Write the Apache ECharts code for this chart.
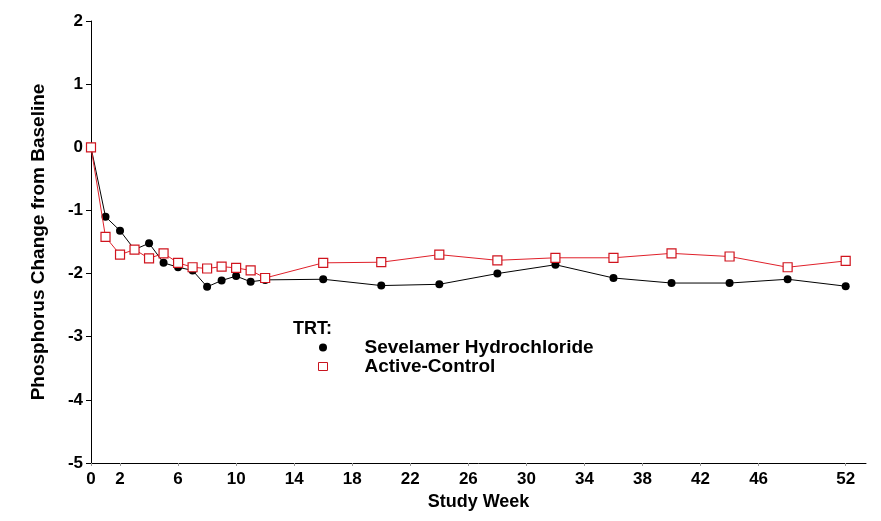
<!DOCTYPE html>
<html><head><meta charset="utf-8">
<script src="https://cdn.jsdelivr.net/npm/echarts@6/dist/echarts.min.js"></script>
<style>html,body{margin:0;padding:0;background:#fff}#c{width:881px;height:521px}</style>
</head><body><div id="c"></div>
<script>
var weeks = [0,1,2,3,4,5,6,7,8,9,10,11,12,16,20,24,28,32,36,40,44,48,52];
var sevelamer = [0,-1.10,-1.32,-1.62,-1.52,-1.83,-1.90,-1.95,-2.21,-2.11,-2.04,-2.13,-2.10,-2.09,-2.19,-2.17,-2.00,-1.86,-2.07,-2.15,-2.15,-2.09,-2.20];
var activeControl = [0,-1.42,-1.70,-1.62,-1.76,-1.68,-1.83,-1.90,-1.92,-1.89,-1.91,-1.95,-2.07,-1.83,-1.82,-1.70,-1.79,-1.75,-1.75,-1.68,-1.73,-1.90,-1.80];
var xTicks = [0,2,6,10,14,18,22,26,30,34,38,42,46,52];

function pairs(ys){ return weeks.map(function(w,i){ return [w, ys[i]]; }); }
var chart = echarts.init(document.getElementById('c'));
var font = '"Liberation Sans",Arial,sans-serif';
chart.setOption({
  animation:false,
  backgroundColor:'#fff',
  grid:{left:91,right:15,top:21,bottom:58,containLabel:false},
  xAxis:{type:'value',min:0,max:53.4,
    name:'Study Week',nameLocation:'middle',nameGap:29,
    nameTextStyle:{fontFamily:font,fontWeight:'bold',fontSize:18,color:'#000'},
    axisLine:{show:true,onZero:false,lineStyle:{color:'#000',width:1}},
    axisTick:{show:true,length:3,customValues:xTicks,lineStyle:{color:'#999'}},
    axisLabel:{customValues:xTicks,fontFamily:font,fontWeight:'bold',fontSize:17,color:'#000',margin:8},
    splitLine:{show:false}},
  yAxis:{type:'value',min:-5,max:2,interval:1,
    name:'Phosphorus Change from Baseline',nameLocation:'middle',nameGap:43,
    nameTextStyle:{fontFamily:font,fontWeight:'bold',fontSize:19,color:'#000'},
    axisLine:{show:true,lineStyle:{color:'#000',width:1}},
    axisTick:{show:true,length:5,lineStyle:{color:'#000'}},
    axisLabel:{fontFamily:font,fontWeight:'bold',fontSize:17,color:'#000',margin:8},
    splitLine:{show:false}},
  legend:{orient:'vertical',left:313,top:333,itemGap:0,itemWidth:9,itemHeight:8,
    textStyle:{fontFamily:font,fontWeight:'bold',fontSize:19,lineHeight:19,color:'#000',padding:[0,0,0,32]},
    data:[{name:'Sevelamer Hydrochloride',icon:'circle',itemStyle:{color:'#000'}},
          {name:'Active-Control',icon:'rect',itemStyle:{color:'#fff',borderColor:'#c8141e',borderWidth:1}}]},
  graphic:[{type:'text',left:293,top:320,style:{text:'TRT:',fontFamily:font,fontWeight:'bold',fontSize:18,fill:'#000'}}],
  series:[
    {name:'Sevelamer Hydrochloride',type:'line',data:pairs(sevelamer),symbol:'circle',symbolSize:8,
      itemStyle:{color:'#000'},lineStyle:{color:'#000',width:1},z:2},
    {name:'Active-Control',type:'line',data:pairs(activeControl),symbol:'rect',symbolSize:9,
      itemStyle:{color:'#fff',borderColor:'#d0141e',borderWidth:1.2},lineStyle:{color:'#e0202a',width:1},z:3}
  ]
});
</script></body></html>
